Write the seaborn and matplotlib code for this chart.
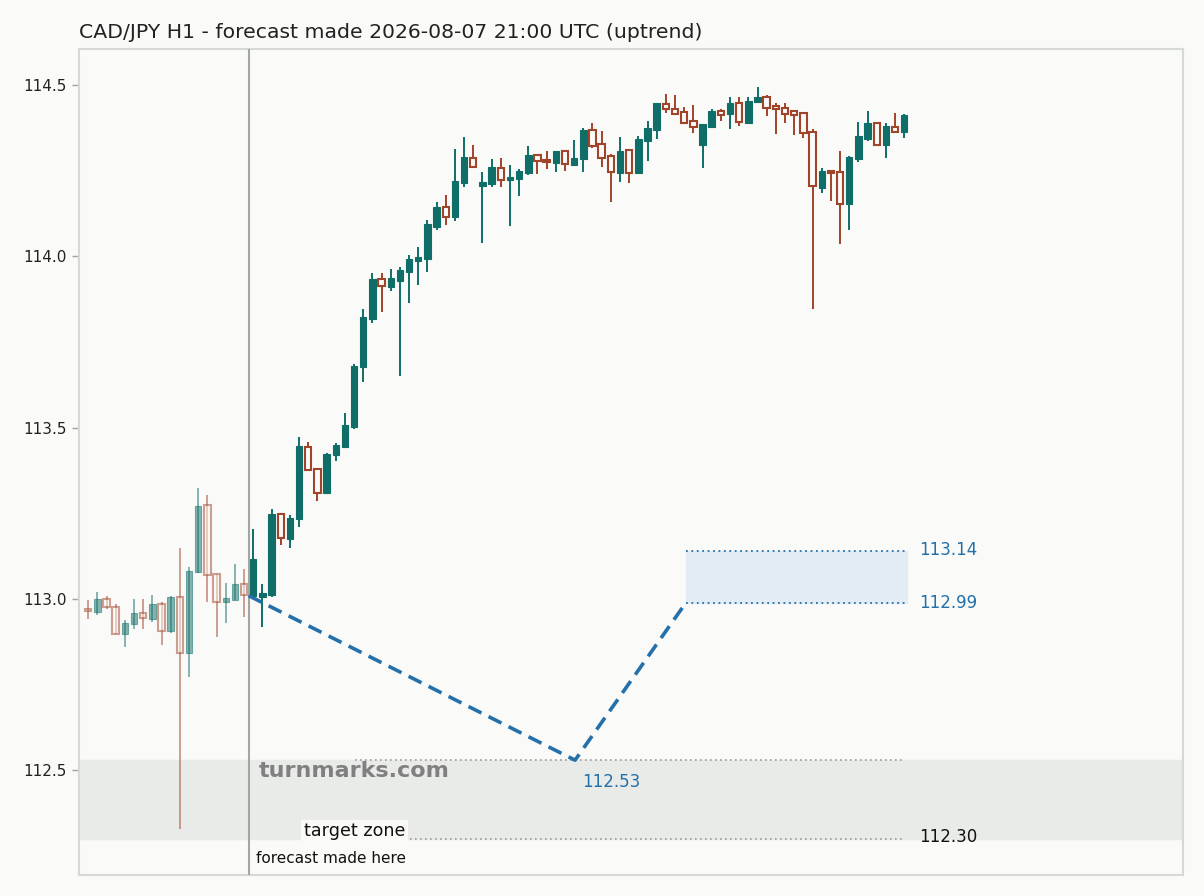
import numpy as np
import pandas as pd
import matplotlib
matplotlib.use("Agg")
import matplotlib.pyplot as plt
import seaborn as sns

# ---------------- data ----------------
opens = [112.970, 112.963, 112.999, 112.976, 112.899, 112.928, 112.958, 112.943, 112.987, 112.907,
         113.005, 112.843, 113.079, 113.274, 113.072, 112.992, 112.997, 113.044,
         113.010, 113.005, 113.013, 113.248, 113.176, 113.233, 113.444, 113.379, 113.310, 113.421,
         113.444, 113.503, 113.676, 113.818, 113.934, 113.911, 113.929, 113.955, 113.987, 113.993,
         114.086, 114.144, 114.116, 114.215, 114.286, 114.206, 114.212, 114.257, 114.222, 114.227,
         114.244, 114.296, 114.281, 114.272, 114.307, 114.267, 114.285, 114.369, 114.328, 114.293,
         114.244, 114.310, 114.244, 114.337, 114.369, 114.445, 114.431, 114.420, 114.394, 114.326,
         114.378, 114.423, 114.416, 114.447, 114.390, 114.451, 114.464, 114.439, 114.432, 114.423,
         114.417, 114.362, 114.200, 114.249, 114.245, 114.154, 114.285, 114.342, 114.388, 114.326,
         114.378, 114.364]
closes = [112.964, 113.000, 112.976, 112.899, 112.929, 112.958, 112.944, 112.987, 112.907, 113.005,
          112.844, 113.082, 113.271, 113.071, 112.992, 113.003, 113.044, 113.011,
          113.117, 113.017, 113.248, 113.177, 113.236, 113.446, 113.376, 113.311, 113.424, 113.450,
          113.508, 113.680, 113.823, 113.934, 113.913, 113.937, 113.960, 113.992, 113.999, 114.094,
          114.144, 114.116, 114.220, 114.290, 114.260, 114.217, 114.261, 114.222, 114.232, 114.249,
          114.296, 114.278, 114.274, 114.307, 114.270, 114.287, 114.369, 114.322, 114.288, 114.247,
          114.307, 114.244, 114.342, 114.375, 114.447, 114.429, 114.416, 114.390, 114.377, 114.386,
          114.423, 114.413, 114.447, 114.393, 114.453, 114.464, 114.434, 114.429, 114.416, 114.412,
          114.359, 114.204, 114.249, 114.242, 114.152, 114.290, 114.351, 114.389, 114.326, 114.380,
          114.364, 114.412]
highs = [112.997, 113.020, 113.010, 112.985, 112.939, 112.999, 112.999, 113.013, 112.992, 113.010,
         113.148, 113.094, 113.323, 113.303, 113.072, 113.046, 113.101, 113.087,
         113.204, 113.044, 113.262, 113.252, 113.245, 113.472, 113.459, 113.379, 113.427, 113.456,
         113.544, 113.686, 113.846, 113.951, 113.951, 113.963, 113.968, 114.004, 114.028, 114.106,
         114.159, 114.179, 114.313, 114.348, 114.325, 114.246, 114.284, 114.287, 114.267, 114.255,
         114.322, 114.299, 114.307, 114.307, 114.307, 114.340, 114.375, 114.389, 114.366, 114.299,
         114.348, 114.310, 114.352, 114.395, 114.447, 114.474, 114.471, 114.436, 114.442, 114.386,
         114.430, 114.430, 114.465, 114.465, 114.465, 114.494, 114.471, 114.446, 114.447, 114.427,
         114.417, 114.372, 114.258, 114.249, 114.307, 114.293, 114.392, 114.424, 114.388, 114.389,
         114.418, 114.416]
lows = [112.943, 112.955, 112.972, 112.899, 112.861, 112.914, 112.914, 112.932, 112.865, 112.900,
        112.329, 112.773, 113.075, 112.992, 112.888, 112.929, 112.997, 112.948,
        113.005, 112.919, 113.007, 113.158, 113.150, 113.209, 113.376, 113.287, 113.310, 113.404,
        113.441, 113.497, 113.634, 113.806, 113.838, 113.900, 113.651, 113.865, 113.916, 113.955,
        114.078, 114.091, 114.104, 114.203, 114.260, 114.040, 114.203, 114.203, 114.089, 114.177,
        114.238, 114.241, 114.256, 114.246, 114.250, 114.267, 114.246, 114.317, 114.262, 114.159,
        114.218, 114.215, 114.244, 114.279, 114.342, 114.419, 114.416, 114.388, 114.361, 114.259,
        114.375, 114.396, 114.372, 114.381, 114.387, 114.451, 114.410, 114.358, 114.390, 114.355,
        114.346, 113.847, 114.186, 114.162, 114.037, 114.078, 114.276, 114.337, 114.322, 114.287,
        114.361, 114.346]

n_history = 18            # candles before the forecast
forecast_x = 17.5         # forecast moment (candle index)
forecast_path_x = [17.5, 53.1, 65.2]
forecast_path_y = [113.01, 112.53, 112.99]
zone_low, zone_high = 112.99, 113.14
zone_x = [65.2, 89.3]
min_level, min_x = 112.53, [29.1, 89.0]
target_low = 112.30
title = "CAD/JPY H1 - forecast made 2026-08-07 21:00 UTC (uptrend)"

df = pd.DataFrame({"open": opens, "high": highs, "low": lows, "close": closes})
df["idx"] = np.arange(len(df))

# ---------------- style ----------------
bg = "#fafaf8"
sns.set_theme(style="white")
plt.rcParams["font.family"] = ["DejaVu Sans"]
up_c = "#0f6e68"
dn_c = "#a0442a"
blue = "#2470aa"

fig = plt.figure(figsize=(12.04, 8.96), dpi=100, facecolor=bg)
ax = fig.add_axes([79/1204, 1 - 875/896, (1183-79)/1204, (875-49)/896])
ax.set_facecolor(bg)

# target band
ax.axhspan(target_low, min_level, color="#e9ebe8", zorder=0)

# candles
w = 0.7
for _, r in df.iterrows():
    i = r["idx"]
    hist = i < n_history
    a = 0.5 if hist else 1.0
    up = r["close"] >= r["open"]
    col = up_c if up else dn_c
    ax.vlines(i, r["low"], r["high"], color=col, lw=1.4, alpha=a, zorder=3)
    lo, hi = min(r["open"], r["close"]), max(r["open"], r["close"])
    if up:
        ax.bar(i, hi - lo, bottom=lo, width=w, color=col, edgecolor=col, lw=0.8, alpha=a, zorder=4)
    else:
        ax.bar(i, hi - lo, bottom=lo, width=w, facecolor=bg, edgecolor=col, lw=1.5, alpha=a, zorder=4)

# forecast line
ax.axvline(forecast_x, color="#a3a7a3", lw=1.5, zorder=5)
sns.lineplot(x=forecast_path_x, y=forecast_path_y, ax=ax, color=blue, lw=2.6,
             linestyle=(0, (4, 2.2)), zorder=6)

# forecast zone
ax.fill_between(zone_x, zone_low, zone_high, color="#e3ecf4", zorder=1)
ax.hlines([zone_low, zone_high], zone_x[0], zone_x[1], colors=blue, lw=1.3,
          linestyles=(0, (1, 2)), zorder=2)
ax.hlines([min_level], min_x[0], min_x[1], colors="#9a9a9a", lw=1.2,
          linestyles=(0, (1, 2)), zorder=2)
ax.hlines([target_low], min_x[0], min_x[1], colors="#9a9a9a", lw=1.2,
          linestyles=(0, (1, 2)), zorder=2)

lab_x = 90.6
ax.text(lab_x, zone_high + 0.002, f"{zone_high:.2f}", color=blue, fontsize=12, va="center", ha="left")
ax.text(lab_x, zone_low, f"{zone_low:.2f}", color=blue, fontsize=12, va="center", ha="left")
ax.text(lab_x, target_low + 0.005, f"{target_low:.2f}", color="#111111", fontsize=12, va="center", ha="left")
ax.text(forecast_path_x[1] + 0.8, 112.466, f"{min_level:.2f}", color=blue,
        fontsize=12, va="center", ha="left")

ax.text(18.6, 112.497, "turnmarks.com", color="#808080", fontsize=16, fontweight="bold",
        va="center", ha="left", zorder=7)
ax.text(23.5, 112.322, "target zone", color="#111111", fontsize=12.6, va="center", ha="left",
        bbox=dict(facecolor=bg, edgecolor="none", pad=2), zorder=7)
ax.text(18.3, 112.242, "forecast made here", color="#111111", fontsize=11, va="center", ha="left",
        zorder=7)

ax.set_xlim(-1.0, 119.4)
ax.set_ylim(112.195, 114.605)
ax.set_yticks([112.5, 113.0, 113.5, 114.0, 114.5])
ax.set_yticklabels(["112.5", "113.0", "113.5", "114.0", "114.5"])
ax.set_xticks([])
ax.tick_params(axis="y", left=True, length=5, width=1, color="#a0a4a0", labelsize=11,
               labelcolor="#222222", pad=4)
for s in ax.spines.values():
    s.set_color("#d5dad5")
    s.set_linewidth(1.5)
ax.set_xlabel("")
ax.set_ylabel("")
ax.grid(False)
fig.text(79/1204, 1 - 32/896, title, fontsize=14.7, color="#222222", va="center", ha="left")

fig.savefig("out.png", dpi=100, facecolor=bg)
